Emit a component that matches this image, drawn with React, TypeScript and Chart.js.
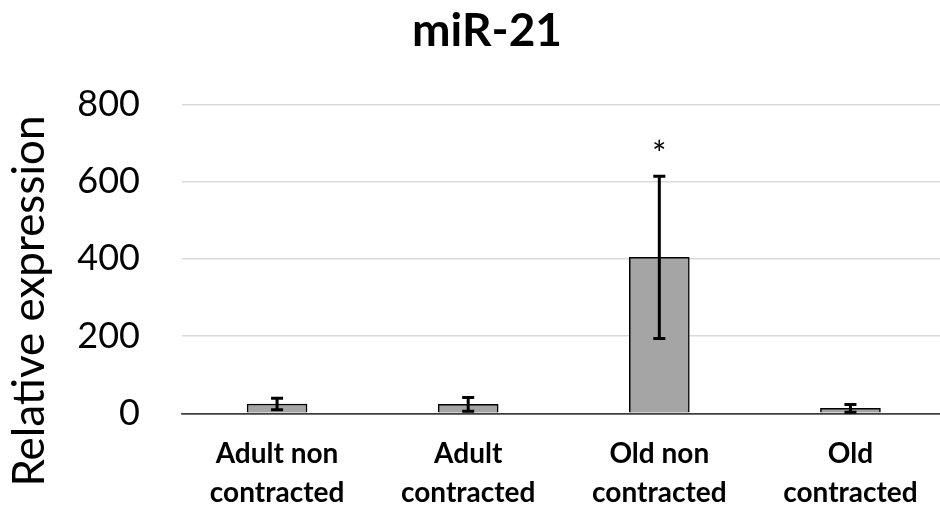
import React, { useEffect, useRef } from 'react';
import { Chart, registerables } from 'chart.js';

Chart.register(...registerables);

const categories: string[][] = [
  ['Adult non', 'contracted'],
  ['Adult', 'contracted'],
  ['Old non', 'contracted'],
  ['Old', 'contracted'],
];
const values: number[] = [24, 23, 404, 13];
const errors: number[] = [15, 18, 210, 10];
const significance: string[] = ['', '', '*', ''];
const yMin = 0;
const yMax = 800;
const yStep = 200;
const chartTitle = 'miR-21';
const yAxisTitle = 'Relative expression';

const FONT = 'Lato';

const errorBarPlugin = {
  id: 'errorBars',
  afterDatasetsDraw(chart: any) {
    const { ctx } = chart;
    const x = chart.scales.x;
    const y = chart.scales.y;
    ctx.save();
    ctx.strokeStyle = '#000000';
    ctx.lineWidth = 3;
    values.forEach((v, i) => {
      const px = x.getPixelForValue(i);
      const top = y.getPixelForValue(v + errors[i]);
      const bot = y.getPixelForValue(v - errors[i]);
      ctx.beginPath();
      ctx.moveTo(px, top);
      ctx.lineTo(px, bot);
      ctx.moveTo(px - 6, top);
      ctx.lineTo(px + 6, top);
      ctx.moveTo(px - 6, bot);
      ctx.lineTo(px + 6, bot);
      ctx.stroke();
      if (significance[i]) {
        ctx.fillStyle = '#000000';
        ctx.font = `34px ${FONT}`;
        ctx.textAlign = 'center';
        ctx.textBaseline = 'alphabetic';
        ctx.fillText(significance[i], px, top - 10);
      }
    });
    ctx.restore();
  },
};

const titlesPlugin = {
  id: 'titles',
  afterDraw(chart: any) {
    const { ctx } = chart;
    ctx.save();
    ctx.fillStyle = '#000000';
    // chart title
    ctx.font = `bold 46px ${FONT}`;
    ctx.textAlign = 'center';
    ctx.textBaseline = 'alphabetic';
    ctx.fillText(chartTitle, 487, 46);
    // y axis title
    ctx.translate(44.3, 301);
    ctx.rotate(-Math.PI / 2);
    ctx.font = `44px ${FONT}`;
    ctx.textAlign = 'center';
    ctx.textBaseline = 'alphabetic';
    ctx.fillText(yAxisTitle, 0, 0);
    ctx.restore();
  },
};

export default function App() {
  const ref = useRef<HTMLCanvasElement | null>(null);

  useEffect(() => {
    if (!ref.current) return;
    const chart = new Chart(ref.current, {
      type: 'bar',
      data: {
        labels: categories,
        datasets: [
          {
            data: values,
            backgroundColor: '#A5A5A5',
            borderColor: '#000000',
            borderWidth: 1.5,
            barThickness: 60,
          },
        ],
      },
      options: {
        responsive: false,
        animation: false,
        layout: { padding: { top: 104.4, left: 0, right: 0, bottom: 0 } },
        plugins: {
          legend: { display: false },
          tooltip: { enabled: false },
          title: { display: false },
        },
        scales: {
          x: {
            grid: { display: false, drawTicks: false },
            border: { display: true, color: '#404040', width: 1.5 },
            ticks: {
              color: '#000000',
              font: { family: FONT, size: 28, weight: 'bold', lineHeight: 1.39 },
              padding: 21,
              maxRotation: 0,
              autoSkip: false,
            },
            afterFit(scale: any) {
              scale.height = 509 - 413.3;
            },
          },
          y: {
            min: yMin,
            max: yMax,
            ticks: {
              stepSize: yStep,
              color: '#000000',
              font: { family: FONT, size: 36 },
              padding: 41.5,
            },
            grid: {
              drawTicks: false,
              lineWidth: 1.5,
              color: (c: any) => (c.tick && c.tick.value === 0 ? '#404040' : '#D9D9D9'),
            },
            border: { display: false },
            afterFit(scale: any) {
              scale.width = 181.5;
            },
          },
        },
      },
      plugins: [errorBarPlugin, titlesPlugin],
    } as any);
    return () => chart.destroy();
  }, []);

  return (
    <div style={{ position: 'absolute', left: 0, top: 0, width: 940, height: 509, overflow: 'hidden', background: '#ffffff' }}>
      <canvas ref={ref} width={946} height={509} style={{ display: 'block' }} />
    </div>
  );
}
